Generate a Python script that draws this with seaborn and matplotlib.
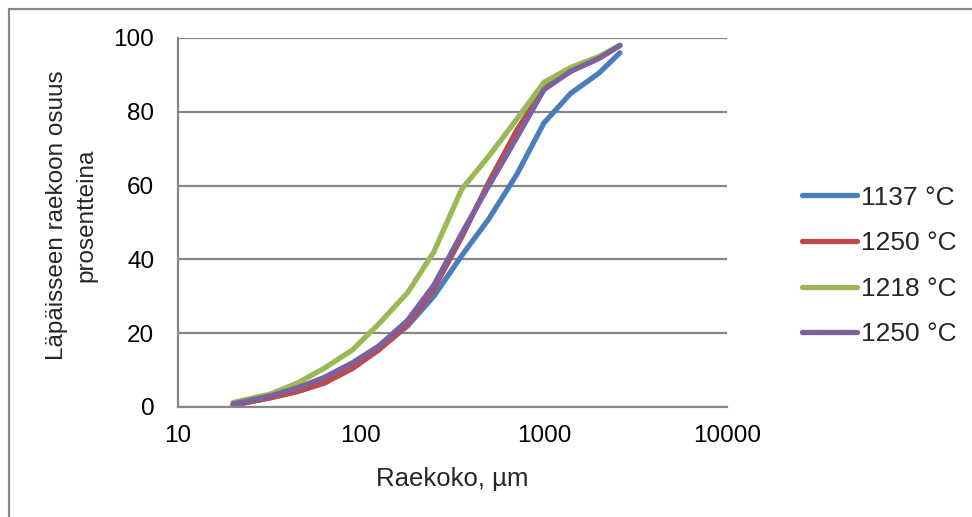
import matplotlib
matplotlib.use("Agg")
import matplotlib.pyplot as plt
from matplotlib.patches import Rectangle
import seaborn as sns
import pandas as pd

# Sieve sizes (µm) and cumulative passing percentages per firing temperature
sizes = [20, 32, 45, 63, 90, 125, 180, 250, 355, 500, 710, 1000, 1400, 2000, 2600]
t1137 = [0.5, 2.5, 4.2, 6.5, 10.5, 15.5, 22.0, 30.0, 41.0, 51.0, 63.0, 77.0, 85.0, 90.5, 96.0]
t1250a = [0.5, 2.5, 4.2, 6.5, 10.5, 15.5, 22.5, 32.0, 46.0, 61.0, 75.0, 86.5, 91.0, 94.5, 98.0]
t1218 = [1.2, 3.5, 6.5, 10.5, 15.5, 22.5, 31.0, 42.0, 59.0, 68.0, 78.0, 88.0, 92.0, 95.0, 98.0]
t1250b = [0.8, 3.0, 5.2, 8.0, 12.0, 16.5, 23.5, 33.0, 47.0, 60.0, 73.0, 86.0, 91.0, 94.5, 98.0]

labels = ["1137 °C", "1250 °C", "1218 °C", "1250 °C"]
colors = ["#4A7EBB", "#BE4B48", "#98B954", "#7D60A0"]
series = [t1137, t1250a, t1218, t1250b]

sns.set_theme(style="white")
plt.rcParams["font.family"] = ["Liberation Sans", "DejaVu Sans"]

fig = plt.figure(figsize=(9.72, 5.17), dpi=100)
ax = fig.add_axes([0.1831, 0.2128, 0.5648, 0.7137])

for vals, lab, col in zip(series, labels, colors):
    df = pd.DataFrame({"size": sizes, "passing": vals})
    sns.lineplot(data=df, x="size", y="passing", ax=ax, color=col, label=lab,
                 linewidth=3.8, solid_capstyle="round", solid_joinstyle="round")

ax.set_xscale("log")
ax.set_xlim(10, 10000)
ax.set_ylim(0, 100)
ax.set_xticks([10, 100, 1000, 10000])
ax.set_xticklabels(["10", "100", "1000", "10000"])
ax.set_yticks([0, 20, 40, 60, 80, 100])
ax.minorticks_off()
ax.tick_params(axis="both", labelsize=17.5, length=0, colors="#000000")
ax.tick_params(axis="y", pad=17)
ax.tick_params(axis="x", pad=13)

ax.yaxis.grid(True, color="#878787", linewidth=1.6)
ax.xaxis.grid(False)
ax.set_axisbelow(True)
for side in ["top", "right"]:
    ax.spines[side].set_visible(False)
for side in ["left", "bottom"]:
    ax.spines[side].set_color("#878787")
    ax.spines[side].set_linewidth(1.6)

ax.set_xlabel("Raekoko, µm", fontsize=18.5)
ax.xaxis.set_label_coords(0.5, -0.163)
ax.set_ylabel("Läpäisseen raekoon osuus\nprosentteina", fontsize=17.5, linespacing=1.4)
ax.yaxis.set_label_coords(-0.147, 0.52)

leg = ax.legend(loc="center left", bbox_to_anchor=(802 / 972, 0.4855),
                bbox_transform=fig.transFigure, frameon=False, borderpad=0,
                borderaxespad=0, fontsize=19, handlelength=2.1,
                handletextpad=0.15, labelspacing=0.82)
for line in leg.get_lines():
    line.set_linewidth(3.8)
    line.set_solid_capstyle("round")

# Outer chart border
fig.patches.append(Rectangle((9 / 972, -0.01), 1.0, 1 - 9 / 517 + 0.01,
                             transform=fig.transFigure, fill=False,
                             edgecolor="#878787", linewidth=1.6))

fig.savefig("out.png", dpi=100)
